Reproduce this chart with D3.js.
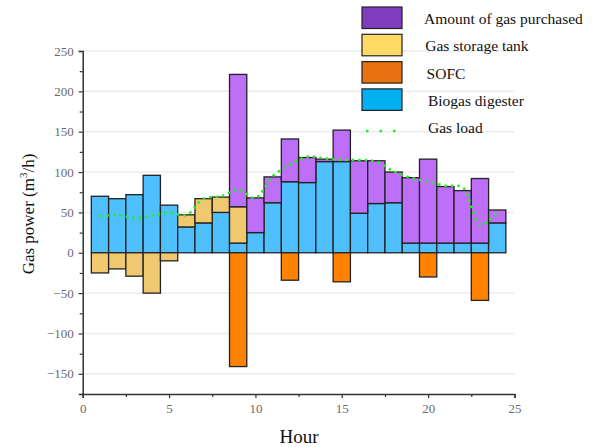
<!DOCTYPE html>
<html>
<head>
<meta charset="utf-8">
<script src="https://cdn.jsdelivr.net/npm/d3@7"></script>
<style>
  body { margin: 0; background: #fff; }
  text { font-family: "Liberation Serif", "DejaVu Serif", serif; }
</style>
</head>
<body>
<div id="chart"></div>
<script>
const width = 595, height = 447;

// data
const hours = d3.range(1, 25);
const biogas    = [70, 67, 72, 96, 59, 32, 37, 50, 12, 25, 62, 88, 87, 113, 113, 49, 61, 62, 12, 12, 12, 12, 12, 37];
const storage   = [-25, -20, -29, -50, -10, 15, 30, 19, 45, 0, 0, 0, 0, 0, 0, 0, 0, 0, 0, 0, 0, 0, 0, 0];
const purchased = [0, 0, 0, 0, 0, 0, 0, 0, 164, 43, 32, 53, 31, 3, 39, 65, 53, 38, 81, 104, 70, 65, 80, 16];
const sofc      = [0, 0, 0, 0, 0, 0, 0, 0, -141, 0, 0, -34, 0, 0, -36, 0, 0, 0, 0, -30, 0, 0, -59, 0];
const gasLoad   = [45, 47, 43, 46, 50, 47, 67, 70, 78, 68, 95, 109, 119, 117, 115, 115, 113, 101, 93, 88, 83, 81, 35, 50];

const xTicks = [0, 5, 10, 15, 20, 25];
const yTicks = [-150, -100, -50, 0, 50, 100, 150, 200, 250];

const keys = ["biogas", "storage", "purchased", "sofc"];
const barColor = { biogas: "#4fc0fd", storage: "#efc86f", purchased: "#bd6ff8", sofc: "#ff8203" };
const legendColor = { purchased: "#7e3cc0", storage: "#ffd966", sofc: "#e8720f", biogas: "#00b0f0" };

const table = hours.map((h, i) => ({
  hour: h, biogas: biogas[i], storage: storage[i], purchased: purchased[i], sofc: sofc[i]
}));

const x = d3.scaleLinear().domain([0, 25]).range([82.7, 514.5]);
const y = d3.scaleLinear().domain([-175, 250]).range([394, 51]);

const svg = d3.select("#chart").append("svg")
  .attr("width", width)
  .attr("height", height);

// grid
svg.append("g").selectAll("line")
  .data(yTicks.filter(d => d !== 0))
  .join("line")
  .attr("x1", x(0)).attr("x2", x(25))
  .attr("y1", d => y(d)).attr("y2", d => y(d))
  .attr("stroke", "#ececec").attr("stroke-width", 1.5);

// bars
const series = d3.stack().keys(keys).offset(d3.stackOffsetDiverging)(table);

svg.append("g").selectAll("g")
  .data(series)
  .join("g")
  .attr("fill", d => barColor[d.key])
  .selectAll("rect")
  .data(d => d.filter(v => v[1] !== v[0]))
  .join("rect")
  .attr("x", d => x(d.data.hour - 0.5))
  .attr("width", d => x(d.data.hour + 0.5) - x(d.data.hour - 0.5))
  .attr("y", d => y(Math.max(d[0], d[1])))
  .attr("height", d => Math.abs(y(d[0]) - y(d[1])))
  .attr("stroke", "#222")
  .attr("stroke-width", 1.3);

// gas load
const line = d3.line()
  .x((d, i) => x(hours[i]))
  .y(d => y(d))
  .curve(d3.curveCatmullRom);

svg.append("path")
  .datum(gasLoad)
  .attr("d", line)
  .attr("fill", "none")
  .attr("stroke", "#22ee22")
  .attr("stroke-width", 2.5)
  .attr("stroke-linecap", "butt")
  .attr("stroke-dasharray", "2.5,4");

// axes
svg.append("g")
  .attr("transform", `translate(0,${y(-175)})`)
  .call(d3.axisBottom(x).tickValues(xTicks).tickSize(4).tickPadding(6));
svg.append("g")
  .attr("transform", `translate(0,${y(-175)})`)
  .call(d3.axisBottom(x).tickValues(d3.range(2.5, 25, 5)).tickSize(3).tickFormat(""))
  .call(g => g.select(".domain").remove());

svg.append("g")
  .attr("transform", `translate(${x(0)},0)`)
  .call(d3.axisLeft(y).tickValues(yTicks).tickSize(4).tickPadding(5).tickFormat(d => d < 0 ? "\u2212" + (-d) : d));
svg.append("g")
  .attr("transform", `translate(${x(0)},0)`)
  .call(d3.axisLeft(y).tickValues(d3.range(-175, 250, 50)).tickSize(3).tickFormat(""))
  .call(g => g.select(".domain").remove());

svg.selectAll(".domain").attr("stroke", "#333").attr("stroke-width", 1.5);
svg.selectAll(".tick line").attr("stroke", "#333").attr("stroke-width", 1.2);
svg.selectAll(".tick text")
  .attr("fill", "#6a6a6a")
  .style("font-family", "'Liberation Serif', serif")
  .style("font-size", "13px");

// axis titles
svg.append("text")
  .attr("x", 299).attr("y", 443)
  .attr("text-anchor", "middle")
  .style("font-size", "19px")
  .attr("fill", "#111")
  .text("Hour");

const yTitle = svg.append("text")
  .attr("transform", "translate(34,214) rotate(-90)")
  .attr("text-anchor", "middle")
  .style("font-size", "17px")
  .attr("fill", "#111");
yTitle.append("tspan").text("Gas power (m");
yTitle.append("tspan").attr("dy", -7).style("font-size", "11px").text("3");
yTitle.append("tspan").attr("dy", 7).text("/h)");

// legend
const legendItems = [
  { key: "purchased", label: "Amount of gas purchased" },
  { key: "storage", label: "Gas storage tank" },
  { key: "sofc", label: "SOFC" },
  { key: "biogas", label: "Biogas digester" }
];
const legend = svg.append("g");
legend.selectAll("rect")
  .data(legendItems)
  .join("rect")
  .attr("x", 362).attr("y", (d, i) => 7 + i * 27.3)
  .attr("width", 40).attr("height", 21.5)
  .attr("fill", d => legendColor[d.key])
  .attr("stroke", "#222").attr("stroke-width", 1.2);
legend.selectAll("text")
  .data(legendItems)
  .join("text")
  .attr("x", (d, i) => 424 + i * 1.3).attr("y", (d, i) => 24 + i * 27.3)
  .style("font-size", "15.5px")
  .attr("fill", "#111")
  .text(d => d.label);
legend.append("line")
  .attr("x1", 366).attr("x2", 398)
  .attr("y1", 131).attr("y2", 131)
  .attr("stroke", "#22ee22").attr("stroke-width", 2.5)
  .attr("stroke-dasharray", "2.5,11");
legend.append("text")
  .attr("x", 428).attr("y", 133)
  .style("font-size", "15.5px")
  .attr("fill", "#111")
  .text("Gas load");
</script>
</body>
</html>
